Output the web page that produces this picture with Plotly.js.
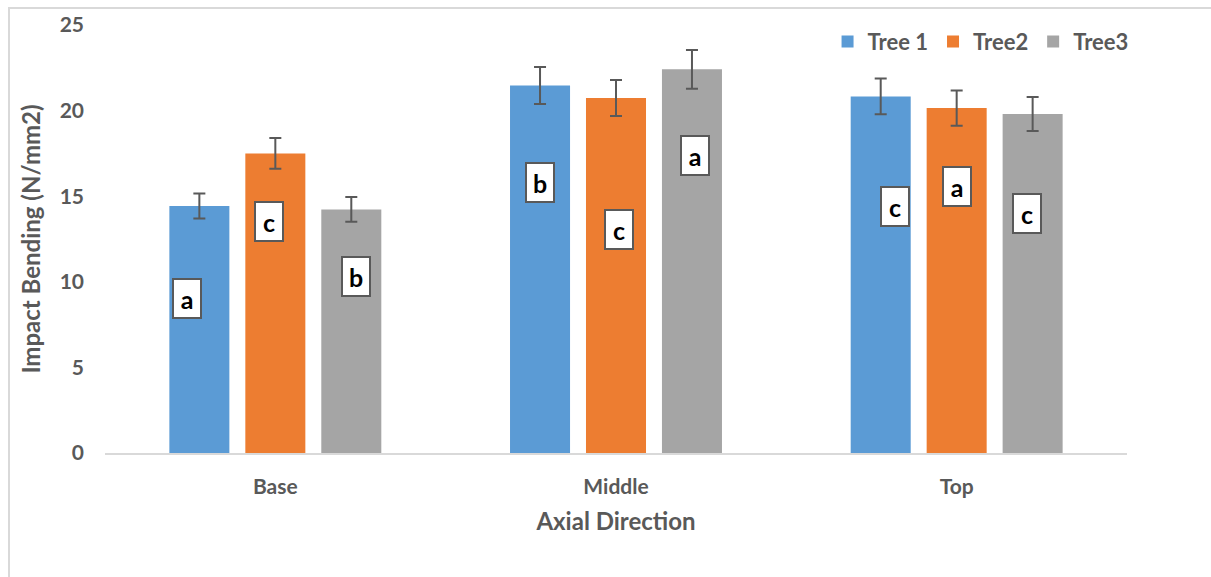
<!DOCTYPE html>
<html>
<head>
<meta charset="utf-8">
<script src="https://cdn.plot.ly/plotly-3.0.1.min.js"></script>
<style>
  html, body { margin: 0; padding: 0; background: #fff; }
  #wrap { position: relative; width: 1211px; height: 577px; }
  #chart { width: 1211px; height: 577px; }
  #frame { position: absolute; left: 8px; top: 7px; width: 1300px; height: 700px;
           border-left: 2px solid #d9d9d9; border-top: 2px solid #d9d9d9; pointer-events: none; }
</style>
</head>
<body>
<div id="wrap">
  <div id="chart"></div>
  <div id="frame"></div>
</div>
<script>
// ---- data ----
const categories = ['Base', 'Middle', 'Top'];
const seriesNames = ['Tree 1', 'Tree2', 'Tree3'];
const tree1 = [14.43, 21.46, 20.83];
const tree2 = [17.50, 20.74, 20.15];
const tree3 = [14.23, 22.41, 19.80];
const tree1Err = [0.73, 1.08, 1.05];
const tree2Err = [0.90, 1.05, 1.03];
const tree3Err = [0.72, 1.13, 0.99];
const tree1Letters = ['a', 'b', 'c'];
const tree2Letters = ['c', 'c', 'a'];
const tree3Letters = ['b', 'a', 'c'];
// letter-box vertical positions (value units)
const tree1LetterY = [9.05, 15.80, 14.42];
const tree2LetterY = [13.53, 13.04, 15.58];
const tree3LetterY = [10.29, 17.38, 14.00];

// ---- styles ----
const colors = ['#5b9bd5', '#ed7d31', '#a5a5a5'];
const textColor = '#595959';
const font = 'Lato, "Open Sans", sans-serif';
const slotPx = 76;               // distance between bar centres within a group
const letterShift = [[-12, 0, 14], [-6, 3, 0], [5, 3, -6]]; // horizontal offsets (px)

const values = [tree1, tree2, tree3];
const errs = [tree1Err, tree2Err, tree3Err];
const letters = [tree1Letters, tree2Letters, tree3Letters];
const letterY = [tree1LetterY, tree2LetterY, tree3LetterY];

const traces = values.map((v, i) => ({
  type: 'bar',
  name: seriesNames[i],
  x: categories,
  y: v,
  marker: { color: colors[i] },
  error_y: { type: 'data', array: errs[i], visible: true, color: textColor, thickness: 2, width: 6 },
  hoverinfo: 'skip'
}));

const annotations = [];
for (let s = 0; s < 3; s++) {
  for (let c = 0; c < categories.length; c++) {
    annotations.push({
      x: categories[c], y: letterY[s][c], xref: 'x', yref: 'y',
      xshift: (s - 1) * slotPx + letterShift[s][c],
      text: '<b>' + letters[s][c] + '</b>',
      showarrow: false,
      font: { family: font, size: 25, color: '#000' },
      bgcolor: '#ffffff', bordercolor: textColor, borderwidth: 2, borderpad: 1,
      width: 24, height: 35, align: 'center', valign: 'middle'
    });
  }
}

const layout = {
  width: 1211, height: 577,
  margin: { l: 104.5, r: 83.5, t: 25, b: 124 },
  paper_bgcolor: '#fff', plot_bgcolor: '#fff',
  barmode: 'group',
  bargap: 0.331,
  bargroupgap: 0.21,
  font: { family: font, color: textColor },
  showlegend: true,
  legend: {
    orientation: 'h', x: 0.707, xanchor: 'left', y: 1.01, yanchor: 'top',
    font: { family: font, size: 22, color: textColor, weight: 'bold' },
    bgcolor: 'rgba(0,0,0,0)', itemclick: false, tracegroupgap: 0
  },
  xaxis: {
    type: 'category',
    showline: true, linecolor: '#d9d9d9', linewidth: 2,
    showgrid: false, zeroline: false, ticks: '',
    tickfont: { family: font, size: 21, color: textColor, weight: 'bold' },
    ticklabelstandoff: 14,
    title: { text: '<b>Axial Direction</b>', font: { family: font, size: 24, color: textColor }, standoff: 16 }
  },
  yaxis: {
    range: [0, 25], dtick: 5, tick0: 0,
    showline: false, showgrid: false, zeroline: false, ticks: '',
    tickfont: { family: font, size: 21, color: textColor, weight: 'bold' },
    ticklabelstandoff: 20,
    title: { text: '<b>Impact Bending (N/mm2)</b>', font: { family: font, size: 24, color: textColor }, standoff: 12 }
  },
  annotations: annotations
};

Plotly.newPlot('chart', traces, layout, { displayModeBar: false, staticPlot: true });
</script>
</body>
</html>
